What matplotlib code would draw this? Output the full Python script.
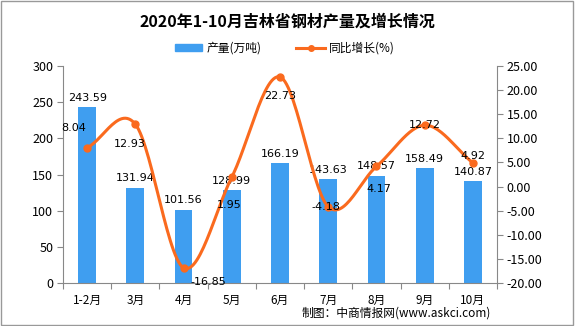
import numpy as np
import matplotlib.pyplot as plt
from matplotlib.patches import Rectangle

plt.rcParams['font.family'] = ['Noto Sans CJK SC', 'DejaVu Sans']

months = ["1-2月", "3月", "4月", "5月", "6月", "7月", "8月", "9月", "10月"]
output = [243.59, 131.94, 101.56, 128.99, 166.19, 143.63, 148.57, 158.49, 140.87]
growth = [8.04, 12.93, -16.85, 1.95, 22.73, -4.18, 4.17, 12.72, 4.92]
# label offsets (points) for the growth labels
growth_off = [(-10, 14), (-4, -14), (18, -10), (-2, -20), (0, -14), (-2, 0), (2, -16), (0, 0), (0, 5)]

bar_color = "#3f9ef0"
line_color = "#fa6a1e"

fig = plt.figure(figsize=(5.75, 3.26), dpi=100)
fig.patches.append(Rectangle((0.002, 0.003), 0.995, 0.994, transform=fig.transFigure,
                             fill=False, edgecolor="#999999", linewidth=1.0))

ax = fig.add_axes([0.1096, 0.1319, 0.7547, 0.6656])
x = np.arange(len(months))
ax.bar(x, output, width=0.37, color=bar_color, zorder=2)
ax.set_xlim(-0.5, len(months) - 0.5)
ax.set_ylim(0, 300)
ax.set_yticks(np.arange(0, 301, 50))
ax.set_xticks(np.arange(-0.5, len(months), 1.0))
ax.set_xticklabels([])
ax.set_xticks(x, minor=True)
ax.set_xticklabels(months, minor=True, fontsize=8.5)
ax.tick_params(axis="x", which="minor", length=0, pad=8)
ax.tick_params(axis="x", which="major", length=4, color="#888888")
ax.tick_params(axis="y", length=4, color="#888888", labelsize=9, pad=3)
for s in ["top", "right"]:
    ax.spines[s].set_visible(False)
for s in ["left", "bottom"]:
    ax.spines[s].set_color("#888888")

for xi, v in zip(x, output):
    ax.annotate(f"{v:.2f}", (xi, v), xytext=(0, 3), textcoords="offset points",
                ha="center", va="bottom", fontsize=8, family="DejaVu Sans", zorder=5)

ax2 = ax.twinx()
ax2.set_ylim(-20, 25)
ax2.set_yticks(np.arange(-20, 26, 5))
ax2.set_yticklabels([f"{t:.2f}" for t in np.arange(-20, 26, 5)])
ax2.tick_params(axis="y", length=4, color="#888888", labelsize=9, pad=3)
for s in ["top", "left", "bottom"]:
    ax2.spines[s].set_visible(False)
ax2.spines["right"].set_color("#888888")

# smooth line (Catmull-Rom through the points)
g = np.array(growth)
px = np.concatenate([[2 * x[0] - x[1]], x, [2 * x[-1] - x[-2]]]).astype(float)
py = np.concatenate([[2 * g[0] - g[1]], g, [2 * g[-1] - g[-2]]])
sx, sy = [], []
t = np.linspace(0, 1, 30)
for i in range(1, len(px) - 2):
    p0, p1, p2, p3 = [np.array([px[j], py[j]]) for j in range(i - 1, i + 3)]
    c = 0.5 * ((2 * p1)[:, None] + (-p0 + p2)[:, None] * t
               + (2 * p0 - 5 * p1 + 4 * p2 - p3)[:, None] * t ** 2
               + (-p0 + 3 * p1 - 3 * p2 + p3)[:, None] * t ** 3)
    sx.extend(c[0])
    sy.extend(c[1])
ax2.plot(sx, sy, color=line_color, linewidth=2.2, zorder=3)
ax2.plot(x, growth, "o", color=line_color, markersize=5, zorder=4)

for xi, v, off in zip(x, growth, growth_off):
    ax2.annotate(f"{v:.2f}", (xi, v), xytext=off, textcoords="offset points",
                 ha="center", va="center", fontsize=8, family="DejaVu Sans", zorder=5)

fig.text(0.5, 0.933, "2020年1-10月吉林省钢材产量及增长情况", ha="center", va="center",
         fontsize=11.5, fontweight="bold")

# legend
lx = 0.305
fig.patches.append(Rectangle((lx, 0.843), 0.047, 0.022, transform=fig.transFigure,
                             color=bar_color))
fig.text(lx + 0.055, 0.853, "产量(万吨)", ha="left", va="center", fontsize=8.5)
fig.lines.append(plt.Line2D([0.515, 0.54, 0.565], [0.853, 0.853, 0.853],
                            transform=fig.transFigure, color=line_color, linewidth=2.2,
                            marker="o", markersize=4, markevery=[1]))
fig.text(0.572, 0.853, "同比增长(%)", ha="left", va="center", fontsize=8.5)

fig.text(0.853, 0.04, "制图：中商情报网(www.askci.com)", ha="right", va="center", fontsize=8.5)

plt.savefig("out.png", dpi=100)
